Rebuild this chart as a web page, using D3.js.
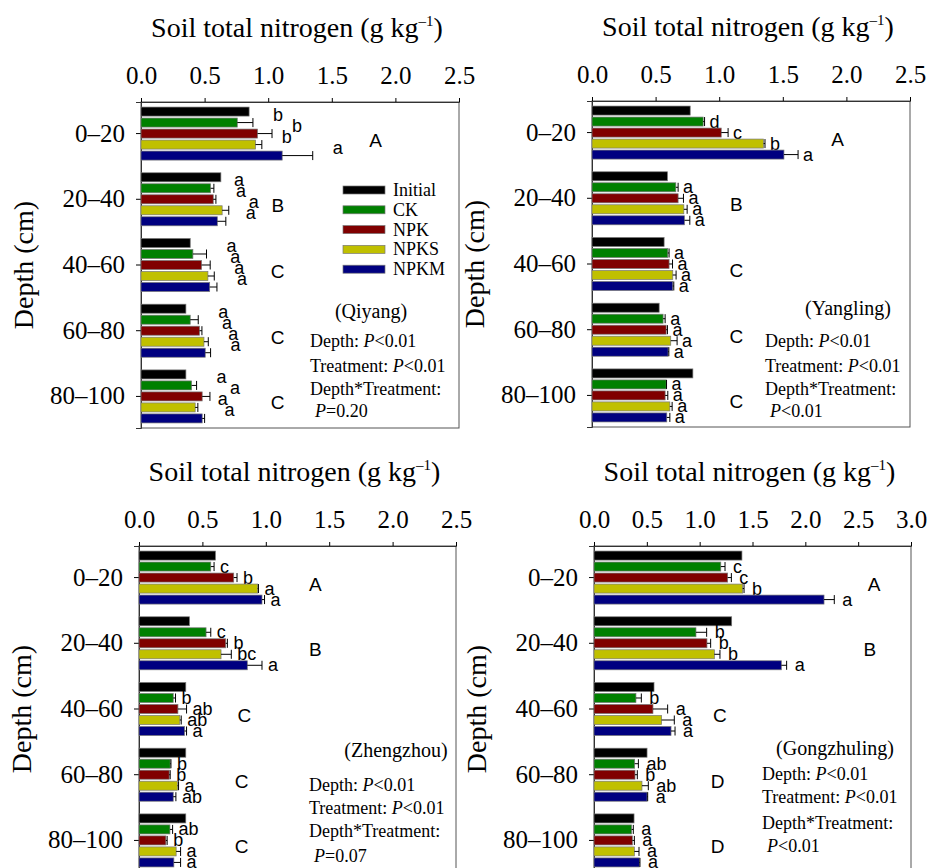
<!DOCTYPE html>
<html>
<head>
<meta charset="utf-8">
<script src="https://cdn.jsdelivr.net/npm/d3@7"></script>
<style>
  body { margin: 0; background: #fff; }
  svg { display: block; }
  .serif { font-family: "Liberation Serif", "Times New Roman", serif; }
  .sans { font-family: "Liberation Sans", Arial, sans-serif; }
</style>
</head>
<body>
<script>
var depths = ["0–20", "20–40", "40–60", "60–80", "80–100"];
var treatments = ["Initial", "CK", "NPK", "NPKS", "NPKM"];
var colors = ["#000000", "#008000", "#800000", "#c0c000", "#000080"];

// means per depth: Initial, CK, NPK, NPKS, NPKM
var qiyangMean = [
  [0.85, 0.757, 0.916, 0.90, 1.11],
  [0.628, 0.547, 0.568, 0.638, 0.60],
  [0.387, 0.408, 0.476, 0.526, 0.54],
  [0.353, 0.387, 0.46, 0.495, 0.505],
  [0.353, 0.398, 0.481, 0.426, 0.481]
];
// upper end of the error bar (null = none)
var qiyangErr = [
  [null, 0.88, 1.03, 0.95, 1.35],
  [null, 0.573, 0.589, 0.69, 0.667],
  [null, 0.515, 0.544, 0.576, 0.597],
  [null, 0.45, 0.479, 0.529, 0.547],
  [null, 0.437, 0.542, 0.447, 0.50]
];
var qiyangLetters = [
  ["", "b", "b", "b", "a"],
  ["", "a", "a", "a", "a"],
  ["", "a", "a", "a", "a"],
  ["", "a", "a", "a", "a"],
  ["", "a", "a", "a", "a"]
];
var qiyangGroups = ["A", "B", "C", "C", "C"];
var qiyangGroupX = [1.845, 1.075, 1.075, 1.075, 1.075];

var yanglingMean = [
  [0.772, 0.874, 1.016, 1.349, 1.509],
  [0.593, 0.659, 0.677, 0.722, 0.727],
  [0.567, 0.596, 0.606, 0.635, 0.635],
  [0.528, 0.559, 0.583, 0.619, 0.598],
  [0.793, 0.583, 0.575, 0.612, 0.588]
];
var yanglingErr = [
  [null, 0.885, 1.07, 1.36, 1.62],
  [null, 0.677, 0.719, 0.748, 0.769],
  [null, 0.606, 0.633, 0.661, 0.643],
  [null, 0.575, 0.593, 0.669, 0.604],
  [null, 0.586, 0.596, 0.63, 0.612]
];
var yanglingLetters = [
  ["", "d", "c", "b", "a"],
  ["", "a", "a", "a", "a"],
  ["", "a", "a", "a", "a"],
  ["", "a", "a", "a", "a"],
  ["", "a", "a", "a", "a"]
];
var yanglingGroups = ["A", "B", "C", "C", "C"];
var yanglingGroupX = [1.93, 1.134, 1.134, 1.134, 1.134];

var zhengzhouMean = [
  [0.603, 0.566, 0.747, 0.936, 0.97],
  [0.398, 0.529, 0.684, 0.647, 0.854],
  [0.369, 0.27, 0.307, 0.322, 0.359],
  [0.369, 0.246, 0.238, 0.304, 0.27],
  [0.369, 0.244, 0.212, 0.293, 0.275]
];
var zhengzhouErr = [
  [null, 0.592, 0.773, 0.942, 0.99],
  [null, 0.566, 0.697, 0.728, 0.97],
  [null, 0.288, 0.375, 0.333, 0.375],
  [null, 0.252, 0.246, 0.312, 0.291],
  [null, 0.265, 0.222, 0.328, 0.328]
];
var zhengzhouLetters = [
  ["", "c", "b", "a", "a"],
  ["", "c", "b", "bc", "a"],
  ["", "b", "ab", "ab", "a"],
  ["", "b", "b", "a", "ab"],
  ["", "ab", "b", "a", "a"]
];
var zhengzhouGroups = ["A", "B", "C", "C", "C"];
var zhengzhouGroupX = [1.39, 1.39, 0.83, 0.81, 0.81];

var gongzhulingMean = [
  [1.40, 1.20, 1.265, 1.407, 2.177],
  [1.303, 0.965, 1.069, 1.139, 1.773],
  [0.568, 0.397, 0.558, 0.64, 0.729],
  [0.502, 0.385, 0.388, 0.454, 0.502],
  [0.379, 0.356, 0.363, 0.382, 0.429]
];
var gongzhulingErr = [
  [null, 1.24, 1.30, 1.42, 2.274],
  [null, 1.066, 1.104, 1.192, 1.823],
  [null, 0.448, 0.697, 0.76, 0.767],
  [null, 0.42, 0.41, 0.514, 0.508],
  [null, 0.372, 0.382, 0.426, 0.435]
];
var gongzhulingLetters = [
  ["", "c", "c", "b", "a"],
  ["", "b", "b", "b", "a"],
  ["", "b", "a", "a", "a"],
  ["", "ab", "b", "ab", "a"],
  ["", "a", "a", "a", "a"]
];
var gongzhulingGroups = ["A", "B", "C", "D", "D"];
var gongzhulingGroupX = [2.65, 2.61, 1.19, 1.17, 1.17];

var xTicks25 = [0, 0.5, 1.0, 1.5, 2.0, 2.5];
var xTicks30 = [0, 0.5, 1.0, 1.5, 2.0, 2.5, 3.0];

var width = 927, height = 868;

var svg = d3.select("body").append("svg")
  .attr("width", width)
  .attr("height", height);

var panels = [
  { site: "(Qiyang)", mean: qiyangMean, err: qiyangErr, letters: qiyangLetters,
    groups: qiyangGroups, groupX: qiyangGroupX, max: 2.5, ticks: xTicks25,
    left: 141, right: 459, top: 102, interaction: "P=0.20",
    gap: 20, ldy: -8, siteX: 230, siteY: 216, statX: 169, statY: [245, 270, 293, 315],
    legend: true },
  { site: "(Yangling)", mean: yanglingMean, err: yanglingErr, letters: yanglingLetters,
    groups: yanglingGroups, groupX: yanglingGroupX, max: 2.5, ticks: xTicks25,
    left: 592, right: 910, top: 101, interaction: "P<0.01",
    gap: 5, ldy: 0, siteX: 256, siteY: 214, statX: 173, statY: [246, 271, 294, 316] },
  { site: "(Zhengzhou)", mean: zhengzhouMean, err: zhengzhouErr, letters: zhengzhouLetters,
    groups: zhengzhouGroups, groupX: zhengzhouGroupX, max: 2.5, ticks: xTicks25,
    left: 139, right: 456, top: 546, interaction: "P=0.07",
    gap: 6, ldy: 0, siteX: 257, siteY: 211, statX: 170, statY: [245, 268, 291, 316] },
  { site: "(Gongzhuling)", mean: gongzhulingMean, err: gongzhulingErr, letters: gongzhulingLetters,
    groups: gongzhulingGroups, groupX: gongzhulingGroupX, max: 3.0, ticks: xTicks30,
    left: 594, right: 911, top: 546, interaction: "P<0.01",
    gap: 8, ldy: 0, siteX: 241, siteY: 209, statX: 168, statY: [234, 257, 283, 306] }
];

panels.forEach(drawPanel);

function drawPanel(p) {
  var w = p.right - p.left, h = 326;
  var g = svg.append("g").attr("transform", "translate(" + p.left + "," + p.top + ")");

  var x = d3.scaleLinear().domain([0, p.max]).range([0, w]);
  var y = d3.scaleBand().domain(depths).range([0, h]).paddingInner(0.193).paddingOuter(0.077);
  var yi = d3.scaleBand().domain(treatments).range([0, y.bandwidth()]).paddingInner(0.18);

  // frame
  g.append("rect").attr("width", w).attr("height", h)
    .attr("fill", "none").attr("stroke", "#555").attr("stroke-width", 1);

  var xAxis = g.append("g")
    .call(d3.axisTop(x).tickValues(p.ticks).tickSize(4).tickPadding(14).tickFormat(d3.format(".1f")));
  xAxis.select(".domain").attr("stroke", "#333");
  xAxis.selectAll("text").attr("font-size", 25).attr("fill", "#000").attr("font-family", "Liberation Serif");

  var yAxis = g.append("g")
    .call(d3.axisLeft(y).tickSize(5).tickPadding(11));
  yAxis.select(".domain").attr("stroke", "#333");
  yAxis.selectAll("text").attr("font-size", 25).attr("fill", "#000").attr("font-family", "Liberation Serif");

  // title
  var title = g.append("text").attr("class", "serif")
    .attr("x", w / 2 - 3).attr("y", -65)
    .attr("text-anchor", "middle").attr("font-size", 28);
  title.append("tspan").text("Soil total nitrogen (g kg");
  title.append("tspan").attr("font-size", 15).attr("dy", -11).text("–1");
  title.append("tspan").attr("dy", 11).text(")");

  g.append("text").attr("class", "serif")
    .attr("transform", "translate(" + (-108) + "," + (h / 2) + ") rotate(-90)")
    .attr("text-anchor", "middle").attr("font-size", 28)
    .text("Depth (cm)");

  // bars
  var rows = [];
  p.mean.forEach(function (vals, di) {
    vals.forEach(function (v, ti) {
      rows.push({ depth: depths[di], t: treatments[ti], ti: ti, v: v,
        e: p.err[di][ti], letter: p.letters[di][ti] });
    });
  });

  var bar = g.append("g").selectAll("g").data(rows).enter().append("g")
    .attr("transform", function (d) { return "translate(0," + (y(d.depth) + yi(d.t)) + ")"; });

  bar.append("rect")
    .attr("x", 0).attr("width", function (d) { return x(d.v); })
    .attr("height", yi.bandwidth())
    .attr("fill", function (d) { return colors[d.ti]; })
    .attr("stroke", "#777").attr("stroke-width", 0.7);

  var bh = yi.bandwidth();
  var eb = bar.filter(function (d) { return d.e != null; });
  eb.append("line")
    .attr("x1", function (d) { return x(d.v); }).attr("x2", function (d) { return x(d.e); })
    .attr("y1", bh / 2).attr("y2", bh / 2).attr("stroke", "#000").attr("stroke-width", 1);
  eb.append("line")
    .attr("x1", function (d) { return x(d.e); }).attr("x2", function (d) { return x(d.e); })
    .attr("y1", 0).attr("y2", bh).attr("stroke", "#000").attr("stroke-width", 1);

  bar.filter(function (d) { return d.letter; }).append("text").attr("class", "sans")
    .attr("x", function (d) { return x(d.e != null ? d.e : d.v) + p.gap; })
    .attr("y", bh / 2 + 6 + p.ldy)
    .attr("font-size", 18)
    .text(function (d) { return d.letter; });

  // depth letters
  g.append("g").selectAll("text").data(p.groups).enter().append("text").attr("class", "sans")
    .attr("x", function (d, i) { return x(p.groupX[i]); })
    .attr("y", function (d, i) { return y(depths[i]) + y.bandwidth() / 2 + 13; })
    .attr("font-size", 19).attr("text-anchor", "middle")
    .text(function (d) { return d; });

  // stats
  g.append("text").attr("class", "serif").attr("x", p.siteX).attr("y", p.siteY)
    .attr("text-anchor", "middle").attr("font-size", 20).text(p.site);
  var s1 = g.append("text").attr("class", "serif").attr("x", p.statX).attr("y", p.statY[0]).attr("font-size", 18);
  s1.append("tspan").text("Depth: ");
  s1.append("tspan").attr("font-style", "italic").text("P");
  s1.append("tspan").text("<0.01");
  var s2 = g.append("text").attr("class", "serif").attr("x", p.statX).attr("y", p.statY[1]).attr("font-size", 18);
  s2.append("tspan").text("Treatment: ");
  s2.append("tspan").attr("font-style", "italic").text("P");
  s2.append("tspan").text("<0.01");
  g.append("text").attr("class", "serif").attr("x", p.statX).attr("y", p.statY[2]).attr("font-size", 18)
    .text("Depth*Treatment:");
  var s4 = g.append("text").attr("class", "serif").attr("x", p.statX + 5).attr("y", p.statY[3]).attr("font-size", 18);
  s4.append("tspan").attr("font-style", "italic").text("P");
  s4.append("tspan").text(p.interaction.slice(1));

  if (p.legend) {
    var lg = g.append("g").attr("transform", "translate(202,84)");
    var item = lg.selectAll("g").data(treatments).enter().append("g")
      .attr("transform", function (d, i) { return "translate(0," + i * 19.8 + ")"; });
    item.append("rect").attr("width", 42).attr("height", 8)
      .attr("fill", function (d, i) { return colors[i]; })
      .attr("stroke", "#777").attr("stroke-width", 0.7);
    item.append("text").attr("class", "serif").attr("x", 50).attr("y", 10)
      .attr("font-size", 18).text(function (d) { return d; });
  }
}
</script>
</body>
</html>
